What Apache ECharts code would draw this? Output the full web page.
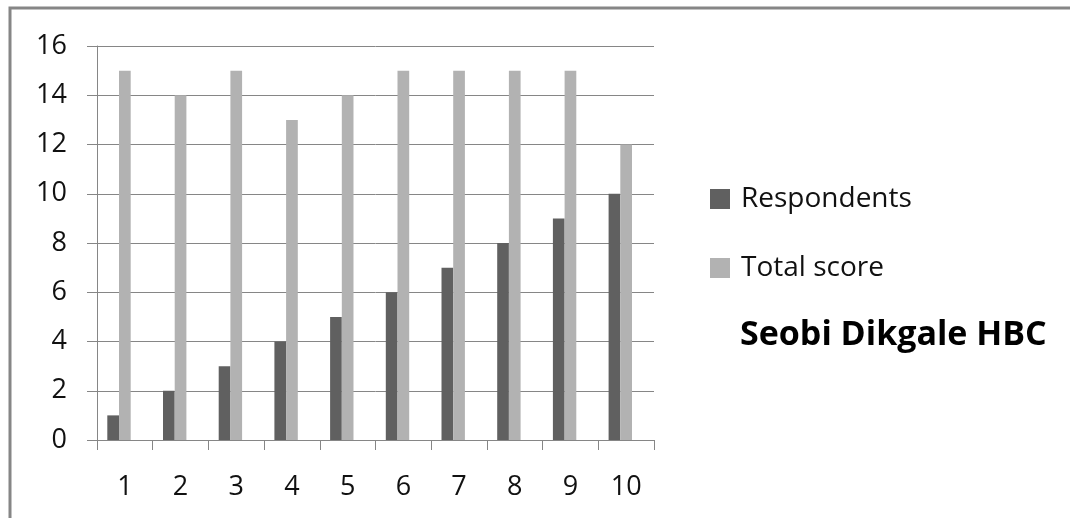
<!DOCTYPE html>
<html>
<head>
<meta charset="utf-8">
<title>Seobi Dikgale HBC</title>
<script src="https://cdn.jsdelivr.net/npm/echarts@6/dist/echarts.min.js"></script>
<style>
  html, body { margin: 0; padding: 0; background: #ffffff; }
  #chart { width: 1070px; height: 518px; }
</style>
</head>
<body>
<div id="chart"></div>
<script>
// Respondents and their total scores
const categories = ['1', '2', '3', '4', '5', '6', '7', '8', '9', '10'];
const respondents = [1, 2, 3, 4, 5, 6, 7, 8, 9, 10];
const totalScore = [15, 14, 15, 13, 14, 15, 15, 15, 15, 12];
// third slot of each cluster is kept empty, as in the source workbook
const emptySlot = [null, null, null, null, null, null, null, null, null, null];
const yTicks = { min: 0, max: 16, interval: 2 };

const FONT = '"Open Sans", "Liberation Sans", sans-serif';
const GRID_COLOR = '#868686';
const TEXT_COLOR = '#111111';

const chart = echarts.init(document.getElementById('chart'), null, { renderer: 'canvas' });

chart.setOption({
  backgroundColor: '#ffffff',
  animation: false,
  graphic: [{
    type: 'rect',
    shape: { x: 10, y: 8, width: 1200, height: 700 },
    style: { fill: 'none', stroke: '#868686', lineWidth: 3 },
    silent: true
  }],
  title: {
    text: 'Seobi Dikgale HBC',
    left: 735,
    top: 313,
    textStyle: { fontFamily: FONT, fontSize: 34, fontWeight: 'bold', color: '#000000' }
  },
  legend: {
    orient: 'vertical',
    left: 705,
    top: 180,
    itemWidth: 20,
    itemHeight: 20,
    itemGap: 41,
    icon: 'rect',
    data: ['Respondents', 'Total score'],
    textStyle: { fontFamily: FONT, fontSize: 28, color: TEXT_COLOR, padding: [0, 0, 0, 6] }
  },
  grid: { left: 97, top: 46, right: 416, bottom: 78, containLabel: false },
  xAxis: {
    type: 'category',
    data: categories,
    boundaryGap: true,
    axisLine: { show: true, lineStyle: { color: GRID_COLOR, width: 1 } },
    axisTick: { show: true, length: 10, inside: false, alignWithLabel: false, lineStyle: { color: GRID_COLOR } },
    axisLabel: { fontFamily: FONT, fontSize: 27, color: TEXT_COLOR, margin: 34 },
    splitLine: { show: false }
  },
  yAxis: {
    type: 'value',
    min: yTicks.min,
    max: yTicks.max,
    interval: yTicks.interval,
    axisLine: { show: true, lineStyle: { color: GRID_COLOR, width: 1 } },
    axisTick: { show: true, length: 10, inside: false, lineStyle: { color: GRID_COLOR } },
    axisLabel: { fontFamily: FONT, fontSize: 27, color: TEXT_COLOR, margin: 30 },
    splitLine: { show: true, lineStyle: { color: GRID_COLOR, width: 1 } }
  },
  series: [
    {
      name: 'Respondents',
      type: 'bar',
      data: respondents,
      itemStyle: { color: '#606060' },
      barGap: '0%',
      barCategoryGap: '37%'
    },
    {
      name: 'Total score',
      type: 'bar',
      data: totalScore,
      itemStyle: { color: '#b2b2b2' },
      barGap: '0%',
      barCategoryGap: '37%'
    },
    {
      name: 'Spare',
      type: 'bar',
      data: emptySlot,
      itemStyle: { color: '#ffffff' },
      barGap: '0%',
      barCategoryGap: '37%'
    }
  ]
});
</script>
</body>
</html>
